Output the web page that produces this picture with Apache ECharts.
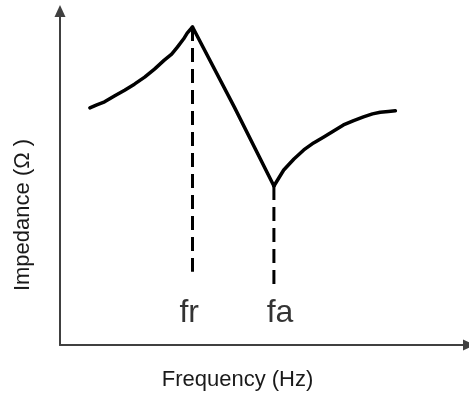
<!DOCTYPE html>
<html>
<head>
<meta charset="utf-8">
<script src="https://cdn.jsdelivr.net/npm/echarts@6/dist/echarts.min.js"></script>
<style>
html,body{margin:0;padding:0;background:#fff;}
#c{width:469px;height:396px;}
</style>
</head>
<body>
<div id="c"></div>
<script>
// Schematic impedance curve (arbitrary units 0-100 on both axes)
var riseX = [7.3, 9.0, 10.9, 13.4, 15.8, 18.2, 20.7, 23.1, 25.5, 27.3, 28.7, 30.2, 31.1, 32.4];
var riseY = [71.0, 71.9, 72.8, 74.6, 76.3, 78.1, 80.2, 82.6, 85.3, 87.1, 89.2, 91.6, 93.4, 95.2];
var fallX = [32.4, 42.6, 52.3];
var fallY = [95.2, 71.3, 47.6];
var tailX = [52.3, 53.5, 54.7, 57.2, 59.6, 62.0, 64.5, 66.9, 69.3, 71.8, 74.2, 76.4, 78.3, 80.3, 82.0];
var tailY = [47.6, 50.0, 52.4, 55.7, 58.4, 60.5, 62.3, 64.1, 65.9, 67.2, 68.3, 69.2, 69.7, 69.9, 70.1];

var markerNames = ['fr', 'fa'];
var markerX = [32.4, 52.3];
var markerTopY = [95.2, 47.6];
var markerBottomY = [21.9, 18.0];
var labelX = [31.6, 53.8];
var labelY = [9.6, 9.6];

var xName = 'Frequency (Hz)';
var yName = 'Impedance (\u03A9 )';

function zip(xs, ys) { return xs.map(function (x, i) { return [x, ys[i]]; }); }

var curveStyle = { color: '#000', width: 3.5, cap: 'round', join: 'round' };
var dashStyle = { color: '#000', width: 3, type: [14, 7], cap: 'butt' };

var series = [
  { type: 'line', data: zip(riseX, riseY), showSymbol: false, lineStyle: curveStyle, z: 3 },
  { type: 'line', data: zip(fallX, fallY), showSymbol: false, lineStyle: curveStyle, z: 3 },
  { type: 'line', data: zip(tailX, tailY), showSymbol: false, lineStyle: curveStyle, z: 3 }
];
markerNames.forEach(function (n, i) {
  series.push({
    type: 'line', showSymbol: false, lineStyle: dashStyle, z: 2,
    data: [[markerX[i], markerTopY[i]], [markerX[i], markerBottomY[i]]]
  });
});
series.push({
  type: 'scatter', symbolSize: 0,
  data: markerNames.map(function (n, i) { return { name: n, value: [labelX[i], labelY[i]] }; }),
  label: {
    show: true, position: 'inside', formatter: '{b}',
    fontFamily: 'Liberation Sans, Arial, sans-serif', fontSize: 32, color: '#000'
  }
});

var axisLineStyle = { color: '#404040', width: 2 };
var chart = echarts.init(document.getElementById('c'), null, { renderer: 'canvas' });
chart.setOption({
  animation: false,
  backgroundColor: '#fff',
  grid: { left: 60, right: -2, top: 11, bottom: 51, containLabel: false },
  xAxis: {
    type: 'value', min: 0, max: 100,
    axisLine: { show: true, symbol: ['none', 'triangle'], symbolSize: [11, 12], lineStyle: axisLineStyle },
    axisTick: { show: false }, axisLabel: { show: false }, splitLine: { show: false },
    name: xName, nameLocation: 'middle', nameGap: 24,
    nameTextStyle: { fontFamily: 'Liberation Sans, Arial, sans-serif', fontSize: 22, color: '#1a1a1a', padding: [0, 54, 0, 0] }
  },
  yAxis: {
    type: 'value', min: 0, max: 100,
    axisLine: { show: true, symbol: ['none', 'triangle'], symbolSize: [11, 12], lineStyle: axisLineStyle },
    axisTick: { show: false }, axisLabel: { show: false }, splitLine: { show: false },
    name: yName, nameLocation: 'middle', nameGap: 26,
    nameTextStyle: { fontFamily: 'Liberation Sans, Arial, sans-serif', fontSize: 22, color: '#1a1a1a', padding: [0, 74, 0, 0] }
  },
  series: series
});
</script>
</body>
</html>
